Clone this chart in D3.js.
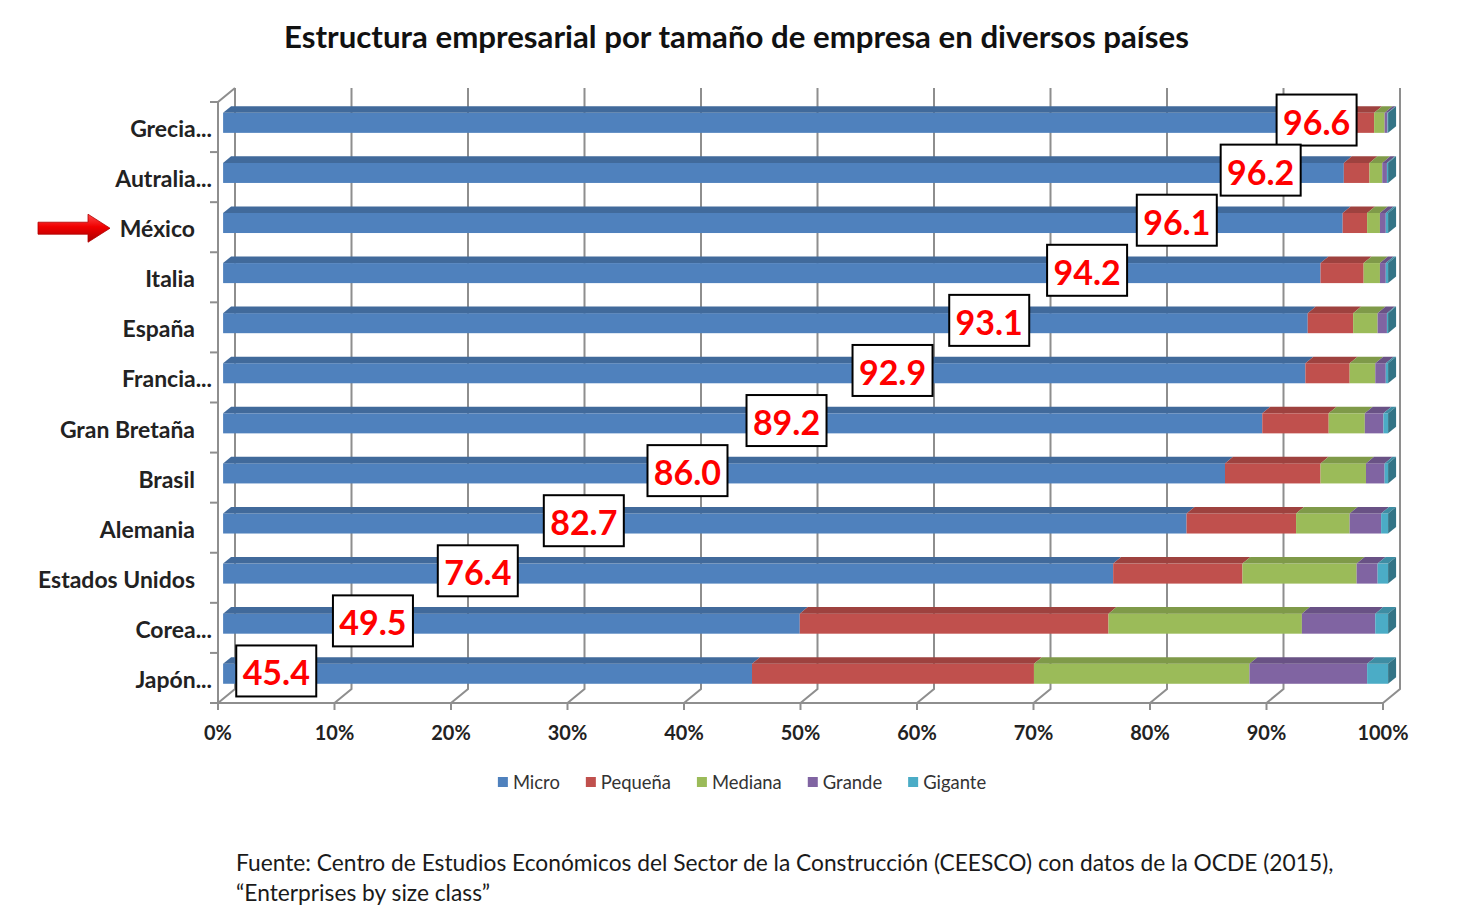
<!DOCTYPE html>
<html><head><meta charset="utf-8">
<script src="https://cdn.jsdelivr.net/npm/d3@7"></script>
<style>body{margin:0;background:#fff;} svg{display:block;}</style>
</head><body>
<script>
// ---- data ----
const categories = ["Grecia...", "Autralia...", "México", "Italia", "España", "Francia...", "Gran Bretaña", "Brasil", "Alemania", "Estados Unidos", "Corea...", "Japón..."];
const seriesNames = ["Micro", "Pequeña", "Mediana", "Grande", "Gigante"];
const micro   = [96.6, 96.2, 96.1, 94.2, 93.1, 92.9, 89.2, 86.0, 82.7, 76.4, 49.5, 45.4];
const pequena = [2.2, 2.2, 2.1, 3.7, 3.9, 3.8, 5.7, 8.2, 9.4, 11.1, 26.5, 24.2];
const mediana = [0.9, 1.1, 1.1, 1.4, 2.1, 2.2, 3.1, 3.9, 4.6, 9.8, 16.6, 18.5];
const grande  = [0.25, 0.4, 0.5, 0.5, 0.8, 0.9, 1.6, 1.6, 2.7, 1.8, 6.3, 10.1];
const gigante = [0.05, 0.1, 0.2, 0.2, 0.1, 0.2, 0.4, 0.3, 0.6, 0.9, 1.1, 1.8];
const xTicks = [0, 10, 20, 30, 40, 50, 60, 70, 80, 90, 100];
const tickLabels = ["0%", "10%", "20%", "30%", "40%", "50%", "60%", "70%", "80%", "90%", "100%"];
// where each (manually placed) value label sits along the axis, in %
const labelAt = [94.3, 89.5, 82.3, 74.6, 66.2, 57.9, 48.8, 40.3, 31.4, 22.3, 13.3, 5.0];
const highlighted = "México";
const titleText = "Estructura empresarial por tamaño de empresa en diversos países";
const sourceLines = ["Fuente: Centro de Estudios Económicos del Sector de la Construcción (CEESCO) con datos de la OCDE (2015),", "“Enterprises by size class”"];

const colors = ["#4F81BD", "#C0504D", "#9BBB59", "#8064A2", "#4BACC6"];
const FONT = "Lato, 'Open Sans', sans-serif";

const W = 1474, H = 924;
const svg = d3.select("body").append("svg").attr("width", W).attr("height", H);

function fit(sel, targetW) {
  const w = sel.node().getComputedTextLength();
  const fs = parseFloat(sel.attr("font-size"));
  sel.attr("font-size", fs * targetW / w);
  return fs * targetW / w;
}

// scales (front plane)
const x = d3.scaleLinear().domain([0, 100]).range([218, 1383]);
const y = d3.scaleBand().domain(categories).range([102, 703]).paddingInner(0).paddingOuter(0);
const DX = 17, DY = -14;           // full depth vector
const f1 = 0.3, f2 = 0.77;         // bar front/back depth fractions
const barH = y.bandwidth() * 0.4;
const gridColor = "#8e8e8e";

// title
const title = svg.append("text").attr("x", 284).attr("y", 48)
  .attr("font-family", FONT).attr("font-weight", "bold").attr("font-size", 28)
  .attr("fill", "#111").text(titleText);
fit(title, 905);

// ---- walls / gridlines ----
const grid = svg.append("g").attr("stroke", gridColor).attr("stroke-width", 2).attr("fill", "none");
const yTop = y.range()[0], yBot = y.range()[1];
xTicks.forEach(t => {
  const xf = x(t), xb = x(t) + DX;
  grid.append("path").attr("d", `M${xb},${yTop + DY}V${yBot + DY}L${xf},${yBot}`);
  grid.append("line").attr("x1", xf).attr("x2", xf).attr("y1", yBot).attr("y2", yBot + 7);
});
grid.append("line").attr("x1", x(0)).attr("x2", x(100)).attr("y1", yBot).attr("y2", yBot);
grid.append("path").attr("d", `M${x(0) + DX},${yTop + DY}L${x(0)},${yTop}V${yBot}`);
const bounds = categories.map(c => y(c)).concat([yBot]);
bounds.forEach(b => grid.append("line").attr("x1", x(0) - 8).attr("x2", x(0)).attr("y1", b).attr("y2", b));

// ---- bars ----
const seriesVals = [micro, pequena, mediana, grande, gigante];
const stackData = categories.map((c, i) => {
  let acc = 0;
  return seriesVals.map((s, k) => { const o = { cat: c, k, x0: acc, x1: acc + s[i] }; acc += s[i]; return o; });
});
const ox = DX * f1, oy = DY * f1;
const bdx = DX * (f2 - f1), bdy = DY * (f2 - f1);
const barsG = svg.append("g");
stackData.forEach(row => {
  const g = barsG.append("g");
  const top = y(row[0].cat) + y.bandwidth() / 2 + oy - barH / 2;
  row.forEach(s => {
    const xa = x(s.x0) + ox, xz = x(s.x1) + ox;
    const base = d3.color(colors[s.k]);
    g.append("rect").attr("x", xa).attr("y", top).attr("width", Math.max(0, xz - xa)).attr("height", barH)
      .attr("fill", base.formatHex());
    g.append("path").attr("d", `M${xa},${top}L${xa + bdx},${top + bdy}L${xz + bdx},${top + bdy}L${xz},${top}Z`)
      .attr("fill", base.darker(0.55).formatHex());
  });
  const last = row[row.length - 1];
  const xe = x(last.x1) + ox;
  g.append("path").attr("d", `M${xe},${top}L${xe + bdx},${top + bdy}L${xe + bdx},${top + bdy + barH}L${xe},${top + barH}Z`)
    .attr("fill", d3.color(colors[last.k]).darker(1.1).formatHex());
});

// ---- category labels ----
const catG = svg.append("g");
const catLabels = catG.selectAll("text").data(categories).join("text")
  .attr("x", d => d.endsWith("...") ? 212 : 195)
  .attr("y", d => y(d) + y.bandwidth() / 2 + 1)
  .attr("dominant-baseline", "central").attr("text-anchor", "end")
  .attr("font-family", FONT).attr("font-weight", "bold").attr("font-size", 20).attr("fill", "#222")
  .text(d => d);
const catFs = fit(catLabels.filter(d => d === "Estados Unidos"), 157);
catLabels.attr("font-size", catFs);

// arrow for highlighted country
const defs = svg.append("defs");
const grad = defs.append("linearGradient").attr("id", "arrowGrad").attr("x1", 0).attr("y1", 0).attr("x2", 0).attr("y2", 1);
grad.append("stop").attr("offset", "0%").attr("stop-color", "#ff4a4a");
grad.append("stop").attr("offset", "45%").attr("stop-color", "#f00000");
grad.append("stop").attr("offset", "100%").attr("stop-color", "#a80000");
const ay = y(highlighted) + y.bandwidth() / 2 + 1;
svg.append("path")
  .attr("d", `M38,${ay - 6}H88V${ay - 14}L110,${ay}L88,${ay + 14}V${ay + 6}H38Z`)
  .attr("fill", "url(#arrowGrad)").attr("stroke", "#b00000").attr("stroke-width", 0.8);

// ---- x tick labels ----
const tl = svg.append("g").selectAll("text").data(xTicks).join("text")
  .attr("x", d => x(d)).attr("y", 732).attr("text-anchor", "middle").attr("dominant-baseline", "central")
  .attr("font-family", FONT).attr("font-weight", "bold").attr("font-size", 19).attr("fill", "#222")
  .text((d, i) => tickLabels[i]);
const tfs = fit(tl.filter(d => d === 100), 51);
tl.attr("font-size", tfs);

// ---- value labels ----
const lblG = svg.append("g");
categories.forEach((c, i) => {
  const cx = x(labelAt[i]);
  const cy = y(c) + y.bandwidth() / 2 - 7;
  lblG.append("rect").attr("x", cx - 40).attr("y", cy - 25.5).attr("width", 80).attr("height", 51)
    .attr("fill", "#fff").attr("stroke", "#000").attr("stroke-width", 2);
  lblG.append("text").attr("x", cx).attr("y", cy + 1).attr("text-anchor", "middle").attr("dominant-baseline", "central")
    .attr("font-family", FONT).attr("font-weight", "bold").attr("font-size", 34).attr("fill", "#ff0000")
    .text(micro[i].toFixed(1));
});

// ---- legend ----
const leg = svg.append("g");
let lx = 0;
const items = [];
seriesNames.forEach((n, k) => {
  const it = leg.append("g").attr("transform", `translate(${lx},0)`);
  it.append("rect").attr("x", 0).attr("y", -5).attr("width", 10).attr("height", 10).attr("fill", colors[k]);
  const t = it.append("text").attr("x", 15).attr("y", 0).attr("dominant-baseline", "central")
    .attr("font-family", FONT).attr("font-size", 18).attr("fill", "#333").text(n);
  items.push(t);
});
const lfs = fit(items[0], 47);
items.forEach(t => t.attr("font-size", lfs));
lx = 0;
leg.selectAll(":scope > g").each(function(d, k) {
  d3.select(this).attr("transform", `translate(${lx},0)`);
  lx += 15 + items[k].node().getComputedTextLength() + 26;
});
const legW = lx - 26;
leg.attr("transform", `translate(${742 - legW / 2},782)`);

// ---- source ----
const s1 = svg.append("text").attr("x", 236).attr("y", 871).attr("font-family", FONT).attr("font-size", 21)
  .attr("fill", "#1a1a1a").text(sourceLines[0]);
const sfs = fit(s1, 1098);
svg.append("text").attr("x", 236).attr("y", 901).attr("font-family", FONT).attr("font-size", sfs)
  .attr("fill", "#1a1a1a").text(sourceLines[1]);
</script>
</body></html>
